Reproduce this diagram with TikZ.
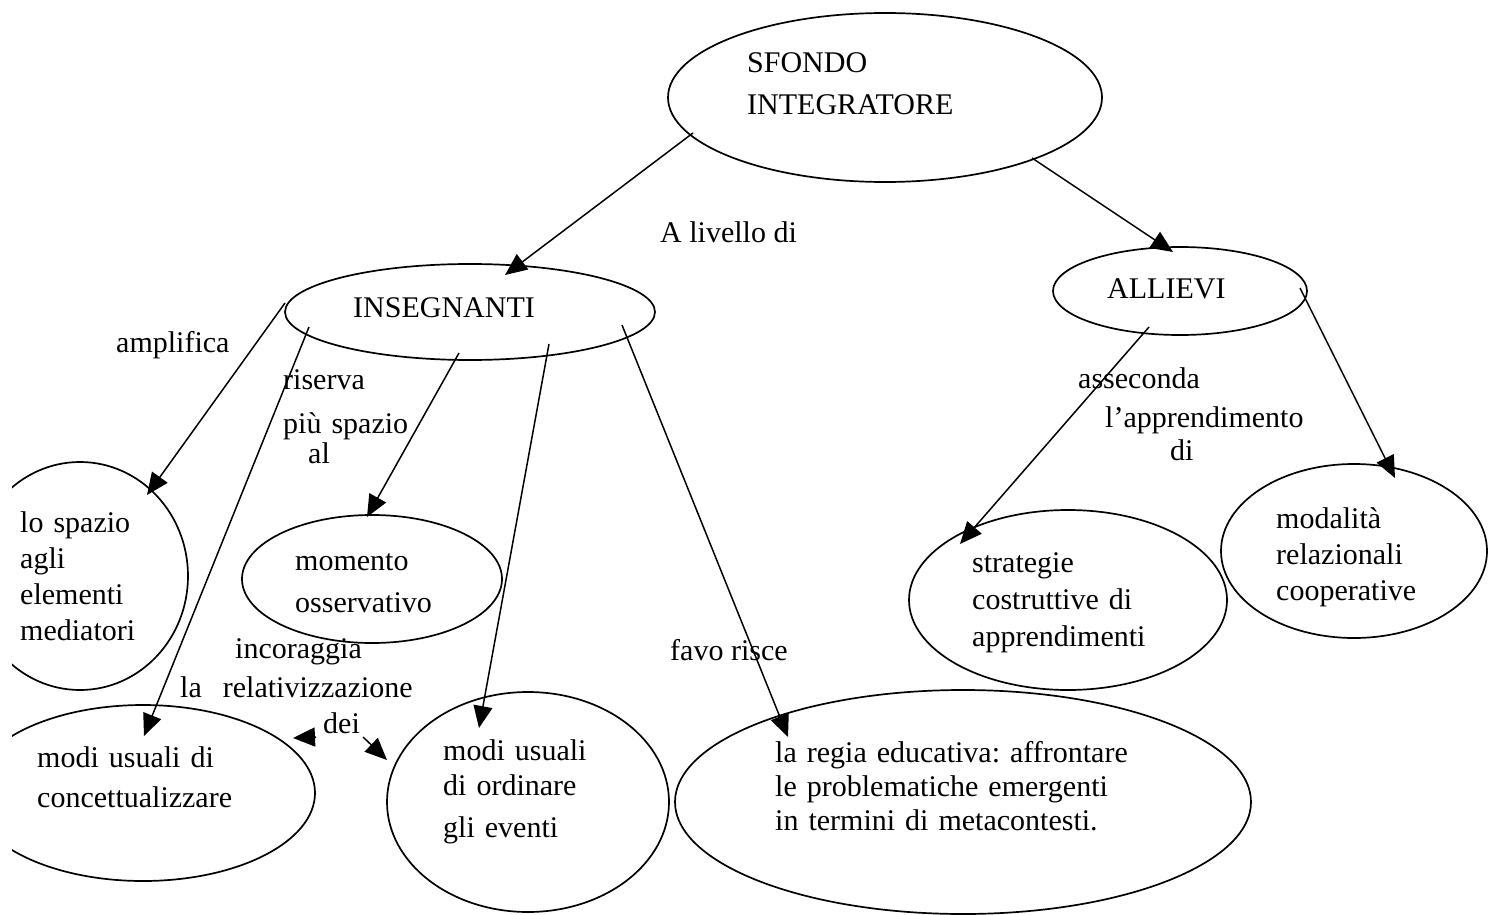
\documentclass[tikz,border=0pt]{standalone}
\usepackage{fontspec}
\setmainfont{Liberation Serif}
\frenchspacing
\usepackage{tikz}
\tikzset{>=latex}
\usetikzlibrary{
    positioning, % relative placement
    arrows.meta, % arrow tips
    calc, % coordinate offsets
    shapes.geometric % ellipse
}
\tikzset{
  bolla/.style={draw, ellipse, line width=1.7pt, inner sep=0pt},
  testo/.style={font=\fontsize{30}{#1}\selectfont, anchor=base west,
                inner sep=0pt, text width=600pt, align=left},
  testo/.default=37,
  etichetta/.style={font=\fontsize{30}{37}\selectfont, anchor=base west, inner sep=0pt},
  freccia/.style={-{Triangle[length=22pt,width=19pt]}, line width=1.5pt}
}

\begin{document}
\begin{tikzpicture}[x=1pt,y=-1pt]
      % page frame (pixels of the reference, y downwards)
      \useasboundingbox (0,0) rectangle (1496,915);
      \clip (12,0) rectangle (1496,915);

      % ===================== ELLIPSES =====================
      \node[bolla, minimum width=434pt, minimum height=169pt] (sfondo)    at (885,97.5) {};
      \node[bolla, minimum width=370pt, minimum height=96pt]  (insegn)    at (470,312) {};
      \node[bolla, minimum width=254pt, minimum height=88pt]  (allievi)   at (1180,291) {};
      \node[bolla, minimum width=216pt, minimum height=228pt] (spazio)    at (80,576) {};
      \node[bolla, minimum width=260pt, minimum height=128pt] (momento)   at (372,579) {};
      \node[bolla, minimum width=344pt, minimum height=176pt] (concett)   at (143,793) {};
      \node[bolla, minimum width=282pt, minimum height=220pt] (ordinare)  at (528,802) {};
      \node[bolla, minimum width=576pt, minimum height=224pt] (regia)     at (963,802) {};
      \node[bolla, minimum width=318pt, minimum height=180pt] (strategie) at (1068,600) {};
      \node[bolla, minimum width=266pt, minimum height=174pt] (modalita)  at (1354,551) {};

      % texts inside the ellipses
      \node[testo=42] at (747,73)  {SFONDO\\INTEGRATORE};
      \node[etichetta] at (353,317) {INSEGNANTI};
      \node[etichetta] at (1107,298) {ALLIEVI};
      \node[testo=36] at (20,532)  {lo spazio\\agli\\elementi\\mediatori};
      \node[testo=42] at (295,570) {momento\\osservativo};
      \node[testo=40] at (37,767)  {modi usuali di\\concettualizzare};
      \node[testo=38] at (443,760) {modi usuali\\[-3pt]di ordinare\\[4pt]gli eventi};
      \node[testo=34] at (775,762) {la regia educativa: affrontare\\le problematiche emergenti\\in termini di metacontesti.};
      \node[testo=37] at (972,572) {strategie\\costruttive di\\apprendimenti};
      \node[testo=36] at (1276,528) {modalità\\relazionali\\cooperative};

      % ===================== LINK LABELS =====================
      \node[etichetta] at (660,242) {A livello di};
      \node[etichetta] at (116,352) {amplifica};
      \node[testo] at (283,389) {riserva\\[7pt]più spazio\\[-7pt]\hspace*{25pt}al};
      \node[etichetta] at (235,658) {incoraggia};
      \node[etichetta] at (180,697) {la\hspace{21pt}relativizzazione};
      \node[etichetta] (dei) at (323,733) {dei};
      \node[etichetta] at (670,660) {favo risce};
      \node[testo] at (1078,388) {asseconda\\[2pt]\hspace*{27pt}l’apprendimento\\[-4pt]\hspace*{92pt}di};

      % ===================== ARROWS =====================
      \draw[freccia] ($(sfondo)+(-192,35.5)$) -- ($(insegn)+(35,-37)$);
      \draw[freccia] ($(sfondo)+(147,60.5)$)  -- ($(allievi)+(-7,-39)$);

      \draw[freccia] ($(insegn)+(-185,-9)$) -- ($(spazio)+(67,-81)$);
      \draw[freccia] ($(insegn)+(-161,15)$) -- ($(concett)+(1,-57)$);
      \draw[freccia] ($(insegn)+(-11,41)$)  -- ($(momento)+(-5,-62)$);
      \draw[freccia] ($(insegn)+(79,32)$)   -- ($(ordinare)+(-49,-74)$);
      \draw[freccia] ($(insegn)+(152,13)$)  -- ($(regia)+(-175,-65)$);

      \draw[freccia] ($(allievi)+(-31,36)$) -- ($(strategie)+(-108,-56)$);
      \draw[freccia] ($(allievi)+(120,-3)$) -- ($(modalita)+(41,-73)$);

      % the two small arrows beside "dei"
      \draw[freccia] ($(dei.base west)+(-7,4)$) -- ($(concett)+(150,-55)$);
      \draw[freccia] ($(dei.base east)+(3,4)$)  -- ($(ordinare)+(-141,-42)$);
\end{tikzpicture}
\end{document}
